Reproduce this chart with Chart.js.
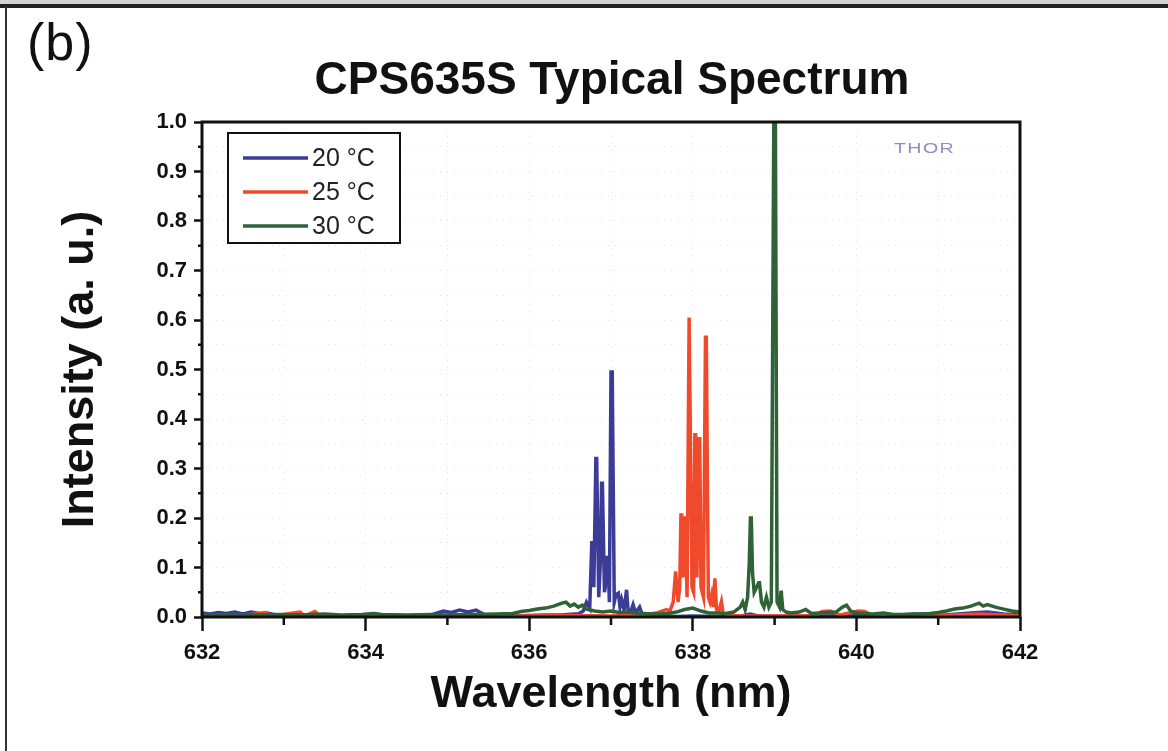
<!DOCTYPE html>
<html>
<head>
<meta charset="utf-8">
<script src="https://cdn.jsdelivr.net/npm/chart.js@4.4.0/dist/chart.umd.min.js"></script>
<style>
html,body{margin:0;padding:0;background:#fff;width:1168px;height:751px;overflow:hidden;font-family:'Liberation Sans',Arial,sans-serif;}
#wrap{position:relative;width:1168px;height:751px;}
#chart{position:absolute;left:0;top:0;}
.topband{position:absolute;left:0;top:0;width:1168px;height:4px;background:#d4d4d4;}
.topline{position:absolute;left:0;top:4px;width:1168px;height:4px;background:#222;}
.leftline{position:absolute;left:5px;top:6px;width:2px;height:745px;background:#333;}
#panel{position:absolute;left:27px;top:16px;font-size:52px;line-height:1;color:#111;letter-spacing:1px;}
#title{position:absolute;left:262px;width:700px;top:55px;text-align:center;font-size:46px;font-weight:bold;line-height:1;color:#111;white-space:nowrap;}
#thor{position:absolute;left:894px;top:141px;font-size:14px;line-height:1;color:#8e8ec0;letter-spacing:1px;transform:scaleX(1.4);transform-origin:left top;}
</style>
</head>
<body>
<div id="wrap">
  <canvas id="chart" width="1168" height="751"></canvas>
  <div class="topband"></div>
  <div class="topline"></div>
  <div class="leftline"></div>
  <div id="panel">(b)</div>
  <div id="title">CPS635S Typical Spectrum</div>
  <div id="thor">THOR</div>
</div>
<script>
// ---------- data ----------
const seriesLabels = ['20 °C', '25 °C', '30 °C'];
const seriesColors = ['#3b3b98', '#ef4a2c', '#2f6236'];

const wavelength20 = [632.00,632.10,632.20,632.30,632.40,632.50,632.60,632.70,632.80,632.90,633.00,633.20,633.40,633.60,633.80,634.00,634.30,634.60,634.80,634.95,635.05,635.15,635.25,635.35,635.45,635.60,635.80,636.00,636.20,636.40,636.55,636.60,636.66,636.70,636.74,636.765,636.775,636.79,636.815,636.825,636.85,636.87,636.885,636.895,636.92,636.94,636.955,636.965,636.98,637.00,637.015,637.04,637.06,637.09,637.11,637.13,637.16,637.19,637.21,637.24,637.27,637.30,637.35,637.38,637.45,637.60,637.80,638.00,638.30,638.60,638.70,638.80,639.20,639.60,640.00,640.50,640.70,640.80,641.00,641.40,641.60,641.80,642.00];
const intensity20  = [0.008,0.006,0.009,0.007,0.010,0.006,0.010,0.007,0.008,0.004,0.003,0.002,0.002,0.001,0.002,0.001,0.002,0.002,0.004,0.012,0.009,0.014,0.010,0.014,0.005,0.002,0.002,0.003,0.004,0.004,0.006,0.006,0.012,0.030,0.018,0.150,0.150,0.060,0.320,0.320,0.040,0.110,0.270,0.270,0.050,0.070,0.120,0.120,0.030,0.495,0.495,0.030,0.045,0.048,0.020,0.035,0.015,0.055,0.012,0.010,0.025,0.008,0.020,0.006,0.004,0.002,0.001,0.002,0.001,0.002,0.006,0.002,0.001,0.002,0.003,0.004,0.006,0.005,0.003,0.008,0.010,0.006,0.004];

const wavelength25 = [632.00,632.50,632.78,632.85,633.20,633.25,633.38,633.45,634.00,634.50,635.00,635.50,636.00,636.50,637.00,637.40,637.55,637.62,637.68,637.72,637.76,637.79,637.82,637.84,637.855,637.865,637.88,637.895,637.905,637.93,637.955,637.965,637.99,638.01,638.025,638.035,638.05,638.075,638.085,638.10,638.13,638.155,638.165,638.19,638.21,638.23,638.25,638.27,638.29,638.32,638.35,638.37,638.42,638.50,638.60,639.00,639.50,639.58,639.68,639.80,640.02,640.10,640.20,640.50,641.00,641.50,641.80,642.00];
const intensity25  = [0.002,0.003,0.009,0.002,0.010,0.002,0.011,0.002,0.002,0.001,0.002,0.002,0.002,0.003,0.002,0.004,0.008,0.012,0.015,0.012,0.030,0.092,0.030,0.060,0.206,0.206,0.080,0.200,0.200,0.040,0.605,0.605,0.060,0.050,0.368,0.368,0.080,0.360,0.360,0.060,0.040,0.565,0.565,0.040,0.030,0.045,0.020,0.078,0.015,0.012,0.031,0.008,0.005,0.003,0.002,0.002,0.003,0.011,0.012,0.004,0.012,0.011,0.003,0.002,0.003,0.006,0.004,0.002];

const wavelength30 = [632.00,632.30,632.60,632.90,633.20,633.50,633.70,633.95,634.10,634.20,634.50,634.80,635.00,635.30,635.60,635.80,635.90,636.00,636.10,636.20,636.30,636.40,636.45,636.50,636.55,636.60,636.65,636.70,636.80,636.90,637.00,637.10,637.20,637.30,637.40,637.50,637.60,637.70,637.80,637.90,638.00,638.10,638.20,638.30,638.40,638.50,638.58,638.61,638.64,638.67,638.69,638.705,638.715,638.73,638.75,638.78,638.805,638.815,638.84,638.87,638.90,638.93,638.96,638.99,639.01,639.03,639.06,639.08,639.10,639.14,639.20,639.30,639.38,639.45,639.55,639.65,639.75,639.83,639.88,639.93,640.00,640.10,640.20,640.33,640.45,640.60,640.75,640.90,641.00,641.10,641.20,641.30,641.40,641.50,641.55,641.60,641.70,641.80,641.90,642.00];
const intensity30  = [0.004,0.005,0.004,0.005,0.004,0.006,0.004,0.005,0.007,0.005,0.004,0.005,0.004,0.005,0.006,0.007,0.011,0.013,0.016,0.018,0.022,0.028,0.030,0.022,0.026,0.020,0.024,0.016,0.012,0.010,0.012,0.009,0.010,0.008,0.007,0.006,0.006,0.007,0.010,0.015,0.018,0.012,0.008,0.008,0.007,0.010,0.020,0.030,0.015,0.040,0.108,0.200,0.200,0.090,0.050,0.060,0.069,0.069,0.030,0.020,0.040,0.020,0.030,1.000,1.000,0.030,0.020,0.053,0.015,0.010,0.008,0.010,0.015,0.007,0.008,0.009,0.010,0.020,0.024,0.012,0.008,0.007,0.006,0.008,0.005,0.005,0.006,0.007,0.009,0.012,0.016,0.018,0.022,0.028,0.022,0.025,0.020,0.016,0.012,0.010];

const xMin = 632, xMax = 642, xStep = 1;
const yMin = 0, yMax = 1, yStep = 0.05;
const xTitle = 'Wavelength (nm)';
const yTitle = 'Intensity (a. u.)';

// ---------- chart ----------
const FONT = "'Liberation Sans', Arial, sans-serif";
const toPoints = (xs, ys) => xs.map((x, i) => ({x: x, y: ys[i]}));

const frameAndLegend = {
  id: 'frameAndLegend',
  afterDraw(chart) {
    const ctx = chart.ctx;
    const a = chart.chartArea;
    const xs = chart.scales.x, ys = chart.scales.y;
    ctx.save();
    // minor ticks
    ctx.strokeStyle = '#111';
    ctx.lineWidth = 2.5;
    ctx.beginPath();
    ys.ticks.forEach((t, i) => {
      if (i % 2 === 1) {
        const py = ys.getPixelForValue(t.value);
        ctx.moveTo(a.left - 4, py); ctx.lineTo(a.left, py);
      }
    });
    xs.ticks.forEach((t) => {
      if (Math.round(t.value) % 2 !== 0) {
        const px = xs.getPixelForValue(t.value);
        ctx.moveTo(px, a.bottom); ctx.lineTo(px, a.bottom + 8);
      }
    });
    ctx.stroke();
    // plot frame (axes lines + box)
    ctx.lineWidth = 3;
    ctx.strokeStyle = '#111';
    ctx.strokeRect(a.left, a.top, a.right - a.left, a.bottom - a.top);
    // legend box
    const bx = a.left + 26, by = a.top + 11, bw = 172, bh = 110;
    ctx.fillStyle = '#fff';
    ctx.fillRect(bx, by, bw, bh);
    ctx.lineWidth = 2;
    ctx.strokeRect(bx, by, bw, bh);
    chart.data.datasets.forEach((ds, i) => {
      const ly = by + 25 + i * 34;
      ctx.strokeStyle = ds.borderColor;
      ctx.lineWidth = 3.5;
      ctx.beginPath();
      ctx.moveTo(bx + 15, ly); ctx.lineTo(bx + 80, ly);
      ctx.stroke();
      ctx.fillStyle = '#222';
      ctx.font = '25px ' + FONT;
      ctx.textBaseline = 'middle';
      ctx.textAlign = 'left';
      ctx.fillText(ds.label, bx + 84, ly + 1);
    });
    ctx.restore();
  }
};

new Chart(document.getElementById('chart'), {
  type: 'line',
  data: {
    datasets: [
      {label: seriesLabels[0], data: toPoints(wavelength20, intensity20), borderColor: seriesColors[0], order: 2},
      {label: seriesLabels[1], data: toPoints(wavelength25, intensity25), borderColor: seriesColors[1], order: 1},
      {label: seriesLabels[2], data: toPoints(wavelength30, intensity30), borderColor: seriesColors[2], order: 0}
    ]
  },
  options: {
    responsive: false,
    animation: false,
    devicePixelRatio: 1,
    layout: {padding: {top: 122, right: 148, bottom: 0, left: 0}},
    plugins: {legend: {display: false}, tooltip: {enabled: false}, title: {display: false}},
    elements: {point: {radius: 0}, line: {borderWidth: 3.5, tension: 0, fill: false, borderJoinStyle: 'miter'}},
    scales: {
      x: {
        type: 'linear', min: xMin, max: xMax,
        ticks: {stepSize: xStep, autoSkip: false, maxRotation: 0, padding: 9, color: '#111',
                font: {family: FONT, size: 22, weight: 'bold'},
                callback: (v) => (Math.round(v) % 2 === 0 ? String(Math.round(v)) : '')},
        grid: {color: 'rgba(0,0,0,0.10)', lineWidth: 1, tickLength: 14, tickWidth: 2.5,
               tickColor: (c) => (c.tick && Math.round(c.tick.value) % 2 === 0 ? '#111' : 'rgba(0,0,0,0)'), z: 1},
        border: {display: false, dash: [1, 6]},
        title: {display: true, text: xTitle, color: '#111', font: {family: FONT, size: 45, weight: 'bold'}, padding: {top: 0, bottom: 29}},
        afterFit: (s) => { s.height = 134; }
      },
      y: {
        type: 'linear', min: yMin, max: yMax,
        ticks: {stepSize: yStep, autoSkip: false, padding: 7, color: '#111',
                font: {family: FONT, size: 22, weight: 'bold'},
                callback: (v, i) => (i % 2 === 0 ? Number(v).toFixed(1) : '')},
        grid: {color: 'rgba(0,0,0,0.10)', lineWidth: 1, tickLength: 8, tickWidth: 2.5,
               tickColor: (c) => (c.tick && Math.round(c.tick.value * 20) % 2 === 0 ? '#111' : 'rgba(0,0,0,0)'), z: 1},
        border: {display: false, dash: [1, 6]},
        title: {display: true, text: yTitle, color: '#111', font: {family: FONT, size: 45, weight: 'bold'}, padding: {top: 54, bottom: 0}},
        afterFit: (s) => { s.width = 202; }
      }
    }
  },
  plugins: [frameAndLegend]
});
</script>
</body>
</html>
